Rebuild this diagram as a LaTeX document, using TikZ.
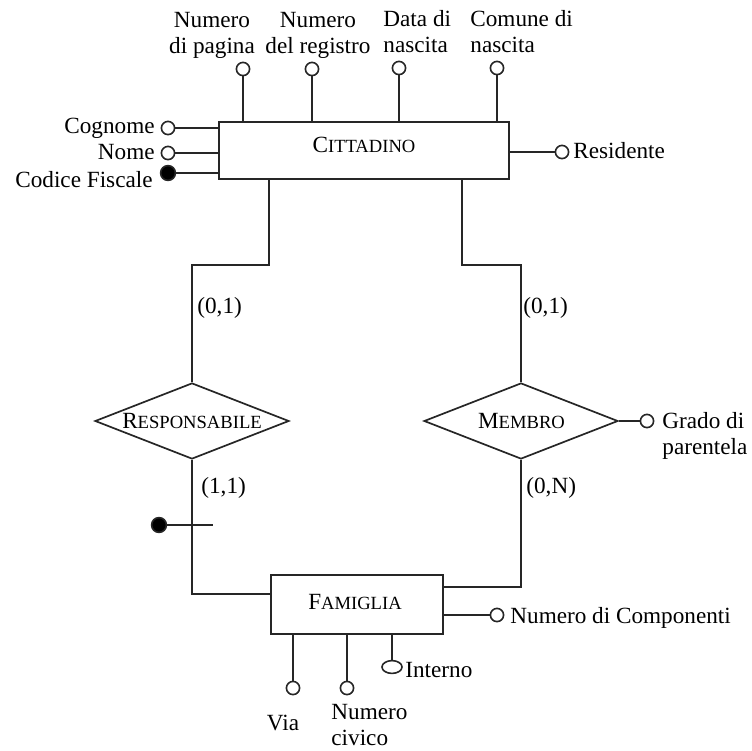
\documentclass[tikz,border=0pt]{standalone}
\usepackage{fontspec}
\setmainfont{Liberation Serif}
\usetikzlibrary{shapes.geometric,calc}
% small-caps style entity names: first letter full size, rest reduced capitals
\newcommand\entname[2]{#1{\fontsize{9.3pt}{11pt}\selectfont #2}}

\begin{document}
\begin{tikzpicture}[x=0.5pt,y=-0.5pt,
  every node/.style={font=\fontsize{11.6pt}{13pt}\selectfont, inner sep=0},
  conn/.style={line width=0.85pt, draw=black!85},
  entity/.style={draw=black!85, line width=0.85pt, rectangle, inner sep=0},
  relation/.style={draw=black!85, line width=0.85pt, diamond, inner sep=0,
    minimum width=97pt, minimum height=38pt},
  attr/.style={draw=black!85, circle, line width=0.8pt, fill=white, inner sep=0,
    minimum size=6.6pt},
  keyattr/.style={attr, fill=black, minimum size=7.4pt},
]
\useasboundingbox (0,0) rectangle (751,751);

% ---- entities ----
\node[entity, minimum width=145pt, minimum height=28.5pt] (citt) at (364,150.5) {};
\node (cittlbl) at (364,145) {\entname{C}{ITTADINO}};
\node[entity, minimum width=86pt, minimum height=29.5pt] (fam) at (357,604.5) {};
\node (famlbl) at (355,602) {\entname{F}{AMIGLIA}};

% ---- relationships ----
\node[relation] (resp) at (192,421) {};
\node (resplbl) at (192,421) {\entname{R}{ESPONSABILE}};
\node[relation] (memb) at (521,421) {};
\node (memblbl) at (521.5,421) {\entname{M}{EMBRO}};

% ---- CITTADINO attributes ----
\node[attr] (np) at (243,69) {};
\node[attr] (nr) at (312,69) {};
\node[attr] (dn) at (399,68) {};
\node[attr] (cn) at (497,68) {};
\node[align=center] (nptxt) at (212,35) {Numero\\di pagina};
\node[align=center] (nrtxt) at (318,35) {Numero\\del registro};
\node[align=left, anchor=west] (dntxt) at (383,31.5) {Data di\\nascita};
\node[align=left, anchor=west] (cntxt) at (470,31.5) {Comune di\\nascita};
\foreach \a in {np,nr,dn,cn} \draw[conn] (\a) -- (\a |- citt.north);

\node[attr] (cog) at (168,128) {};
\node[attr] (nom) at (168,153) {};
\node[keyattr] (cf) at (168,173) {};
\node[anchor=base east] (cogtxt) at (155,133) {Cognome};
\node[anchor=base east] (nomtxt) at (155,159) {Nome};
\node[anchor=base east] (cftxt) at (153,187) {Codice Fiscale};
\foreach \a in {cog,nom,cf} \draw[conn] (\a) -- (\a -| citt.west);

\node[attr] (res) at (562,152) {};
\node[anchor=base west] (restxt) at (573,158) {Residente};
\draw[conn] (citt.east |- res) -- (res);

% ---- relationship links ----
\draw[conn] ($(citt.south west)+(51,0)$) |- ($(resp.north)+(0,-117)$) -- (resp.north);
\draw[conn] ($(citt.south west)+(244,0)$) |- ($(memb.north)+(0,-117)$) -- (memb.north);
\draw[conn] (resp.south) |- ($(fam.north west)+(0,20)$);
\draw[conn] (memb.south) |- ($(fam.north east)+(0,13)$);

\node[anchor=west] (c1) at (197,308) {(0,1)};
\node[anchor=west] (c2) at (523,308) {(0,1)};
\node[anchor=west] (c3) at (201,488) {(1,1)};
\node[anchor=west] (c4) at (526,488) {(0,N)};

% external identifier of FAMIGLIA through RESPONSABILE
\node[keyattr] (iddot) at (159,525) {};
\coordinate (idend) at (213,525);
\draw[conn] (iddot) -- (idend);

% ---- MEMBRO attribute ----
\node[attr] (gp) at (647,421) {};
\node[align=left, anchor=west] (gptxt) at (662,436) {Grado di\\parentela};
\draw[conn] (memb.east) -- (gp);

% ---- FAMIGLIA attributes ----
\node[attr] (ncomp) at (497,615) {};
\node[anchor=base west] (ncomptxt) at (510,623) {Numero di Componenti};
\draw[conn] (fam.east |- ncomp) -- (ncomp);

\node[attr] (via) at (293,688) {};
\node[attr] (civ) at (347,688) {};
\node[draw=black!85, ellipse, line width=0.8pt, fill=white, inner sep=0,
  minimum width=10pt, minimum height=6.4pt] (int) at (392,667) {};
\node[anchor=base] (viatxt) at (283,730) {Via};
\node[align=left, anchor=west] (civtxt) at (331,725) {Numero\\civico};
\node[anchor=base west] (inttxt) at (405,677) {Interno};
\draw[conn] (via |- fam.south) -- (via);
\draw[conn] (civ |- fam.south) -- (civ);
\draw[conn] (int |- fam.south) -- (int.north);
\end{tikzpicture}
\end{document}
